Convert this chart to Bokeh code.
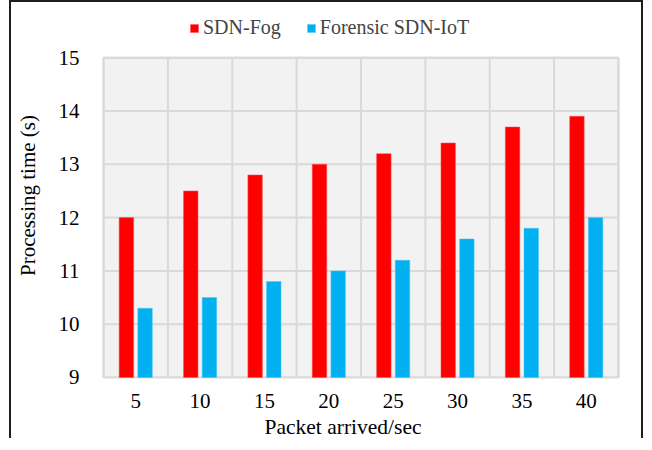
from bokeh.plotting import figure
from bokeh.models import (FixedTicker, Legend, LegendItem, ColumnDataSource, FactorRange,
                          BoxAnnotation, Spacer, Title)
from bokeh.layouts import row
from bokeh.transform import dodge
from bokeh.embed import file_html
from bokeh.resources import INLINE

packets = ["5", "10", "15", "20", "25", "30", "35", "40"]
sdn_fog = [12.0, 12.5, 12.8, 13.0, 13.2, 13.4, 13.7, 13.9]
forensic = [10.3, 10.5, 10.8, 11.0, 11.2, 11.6, 11.8, 12.0]
y_ticks = [9, 10, 11, 12, 13, 14, 15]

FONT = "Liberation Serif"
GRID = "#D9D9D9"
source = ColumnDataSource(dict(cat=packets, fog=sdn_fog, forensic=forensic))

n = len(packets)
y0, y1 = y_ticks[0], y_ticks[-1]
xr = FactorRange(*packets, range_padding=0.094, range_padding_units="absolute")
p = figure(x_range=xr, y_range=(y0 - 0.019, y1 + 0.849), width=634, height=438,
           output_backend="svg", toolbar_location=None,
           min_border_left=86, min_border_right=21, min_border_top=10, min_border_bottom=62)
p.styles = {"border-left": "2px solid #1e1e1e", "border-top": "2px solid #1e1e1e",
            "border-right": "2px solid #1e1e1e"}

p.background_fill_color = "white"
p.border_fill_color = "white"
p.outline_line_color = None
p.xgrid.visible = False
p.ygrid.visible = False

# plot area background
p.add_layout(BoxAnnotation(left=0, right=n, bottom=y0, top=y1, level="image",
                           fill_color="#F2F2F2", fill_alpha=1.0,
                           line_color=GRID, line_width=2, line_alpha=1.0))

# grid lines
vx = list(range(n + 1))
p.segment(x0=vx, x1=vx, y0=[y0] * len(vx), y1=[y1] * len(vx),
          line_color=GRID, line_width=2, level="underlay")
p.segment(x0=[0] * len(y_ticks), x1=[n] * len(y_ticks), y0=y_ticks, y1=y_ticks,
          line_color=GRID, line_width=2, level="underlay")

r1 = p.vbar(x=dodge("cat", -0.145, range=p.x_range), top="fog", bottom=y0, width=0.225,
            source=source, fill_color="#FF0000", line_color="#FF5050", line_width=0.5)
r2 = p.vbar(x=dodge("cat", 0.145, range=p.x_range), top="forensic", bottom=y0, width=0.225,
            source=source, fill_color="#00B0F0", line_color="#50C8F5", line_width=0.5)

p.yaxis.ticker = FixedTicker(ticks=y_ticks)
for ax in (p.xaxis[0], p.yaxis[0]):
    ax.axis_line_color = None
    ax.major_tick_line_color = None
    ax.minor_tick_line_color = None
    ax.major_label_text_font = FONT
    ax.major_label_text_font_size = "21px"
    ax.major_label_text_color = "#000000"
    ax.axis_label_text_font = FONT
    ax.axis_label_text_font_size = "21px"
    ax.axis_label_text_font_style = "normal"
    ax.axis_label_text_color = "#000000"

# category labels start at the category centre (as in the original export)
p.xaxis.major_label_overrides = {c: "\u00a0" * (2 * len(c)) + c for c in packets}
p.yaxis.major_label_standoff = 12
p.xaxis.major_label_standoff = 9
p.yaxis.axis_label = "Processing time (s)"
p.yaxis.axis_label_standoff = 16

xtitle = Title(text="Packet arrived/sec", align="left", offset=167, standoff=4,
               text_font=FONT, text_font_size="21.5px", text_font_style="normal",
               text_color="#000000")
p.add_layout(xtitle, "below")

legend = Legend(items=[LegendItem(label="SDN-Fog", renderers=[r1]),
                       LegendItem(label="Forensic SDN-IoT", renderers=[r2])],
                orientation="horizontal", location=(92, 339),
                glyph_width=10, glyph_height=10, label_standoff=4, spacing=25,
                padding=0, margin=0, background_fill_alpha=0, border_line_color=None,
                label_text_font=FONT, label_text_font_size="20px", label_height=22)
p.add_layout(legend, "center")

layout = row(Spacer(width=9, height=438), p)
open("out.html", "w").write(file_html(layout, INLINE))
